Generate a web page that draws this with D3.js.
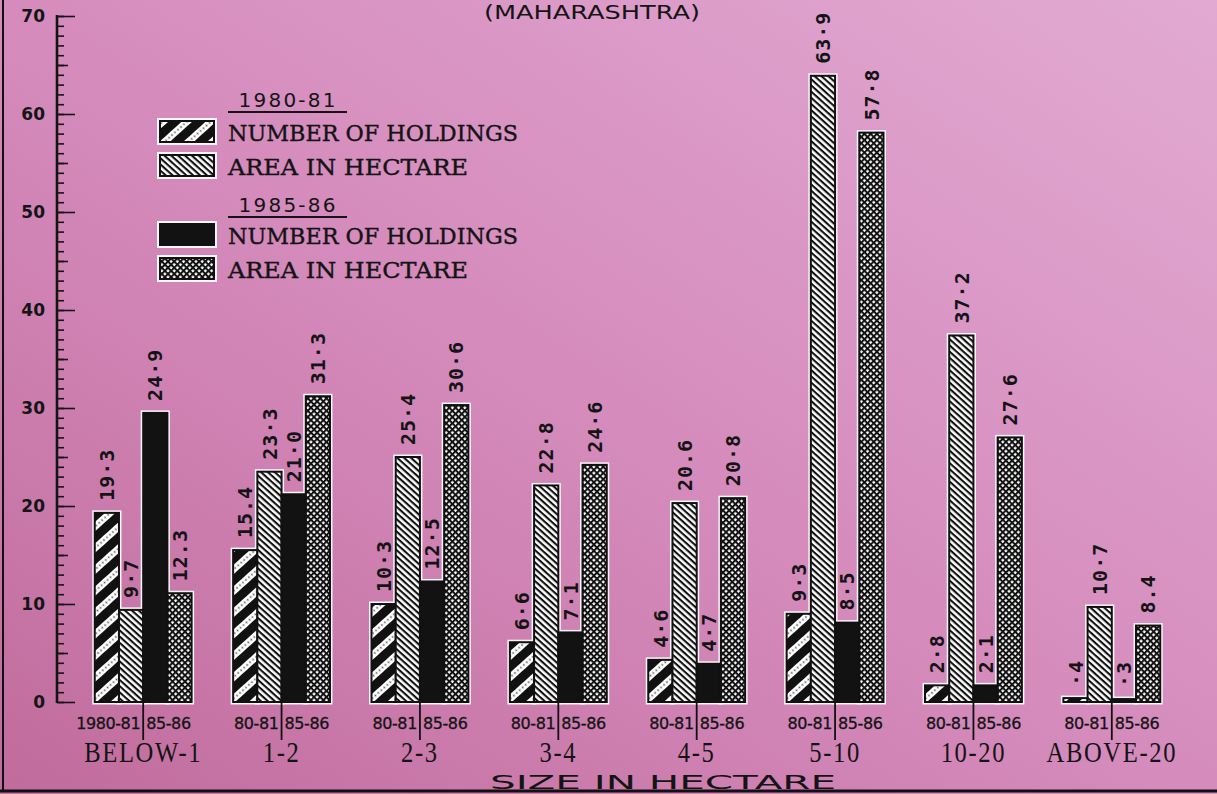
<!DOCTYPE html>
<html>
<head>
<meta charset="utf-8">
<script src="https://cdn.jsdelivr.net/npm/d3@7"></script>
<style>
  html, body { margin: 0; padding: 0; background: #d08cbc; }
  svg { display: block; }
</style>
</head>
<body>
<script>
// size classes (hectare)
const categories = ["BELOW-1", "1-2", "2-3", "3-4", "4-5", "5-10", "10-20", "ABOVE-20"];
const yearLeft = ["1980-81", "80-81", "80-81", "80-81", "80-81", "80-81", "80-81", "80-81"];
const yearRight = ["85-86", "85-86", "85-86", "85-86", "85-86", "85-86", "85-86", "85-86"];

// figures printed above the bars
const holdings8081Text = ["19·3", "15.4", "10·3", "6·6", "4·6", "9·3", "2·8", "·4"];
const area8081Text = ["9·7", "23·3", "25·4", "22·8", "20.6", "63·9", "37·2", "10·7"];
const holdings8586Text = ["24·9", "21·0", "12·5", "7·1", "4·7", "8·5", "2·1", "·3"];
const area8586Text = ["12.3", "31·3", "30·6", "24·6", "20·8", "57·8", "27·6", "8.4"];

// bar heights as drawn against the scale
const holdings8081 = [19.3, 15.5, 10.0, 6.1, 4.3, 9.0, 1.7, 0.4];
const area8081 = [9.4, 23.5, 25.0, 22.1, 20.3, 63.9, 37.4, 9.7];
const holdings8586 = [29.5, 21.2, 12.3, 7.1, 3.9, 8.1, 1.7, 0.3];
const area8586 = [11.1, 31.2, 30.3, 24.2, 20.8, 58.1, 27.0, 7.8];

const yTicks = [0, 10, 20, 30, 40, 50, 60, 70];

const legendYears = ["1980-81", "1985-86"];
const legendNames = ["NUMBER OF HOLDINGS", "AREA IN HECTARE", "NUMBER OF HOLDINGS", "AREA IN HECTARE"];

const width = 1217, height = 794;

const svg = d3.select("body").append("svg")
  .attr("width", width)
  .attr("height", height);

const defs = svg.append("defs");

// paper background
const bg = defs.append("linearGradient").attr("id", "paper")
  .attr("x1", 0).attr("y1", 1).attr("x2", 1).attr("y2", 0);
bg.append("stop").attr("offset", "0%").attr("stop-color", "#c06c9c");
bg.append("stop").attr("offset", "45%").attr("stop-color", "#d489bb");
bg.append("stop").attr("offset", "100%").attr("stop-color", "#e2aad3");

// hatch patterns
const pStripe = defs.append("pattern").attr("id", "stripe")
  .attr("patternUnits", "userSpaceOnUse")
  .attr("width", 16).attr("height", 16)
  .attr("patternTransform", "rotate(-42)");
pStripe.append("rect").attr("width", 16).attr("height", 16).attr("fill", "#111");
pStripe.append("rect").attr("y", 4).attr("width", 16).attr("height", 7).attr("fill", "#fff");
[1.5, 5.5, 9.5, 13.5].forEach(cx =>
  pStripe.append("circle").attr("cx", cx).attr("cy", 7.5).attr("r", 0.9).attr("fill", "#555"));

const pHatch = defs.append("pattern").attr("id", "hatch")
  .attr("patternUnits", "userSpaceOnUse")
  .attr("width", 4.6).attr("height", 4.6)
  .attr("patternTransform", "rotate(42)");
pHatch.append("rect").attr("width", 4.6).attr("height", 4.6).attr("fill", "#fff");
pHatch.append("rect").attr("width", 4.6).attr("height", 2.1).attr("fill", "#111");

const pCross = defs.append("pattern").attr("id", "cross")
  .attr("patternUnits", "userSpaceOnUse")
  .attr("width", 4.4).attr("height", 4.4)
  .attr("patternTransform", "rotate(45)");
pCross.append("rect").attr("width", 4.4).attr("height", 4.4).attr("fill", "#111");
pCross.append("rect").attr("x", 1.1).attr("y", 1.1).attr("width", 2.4).attr("height", 2.4).attr("fill", "#fff");

const fills = ["url(#stripe)", "url(#hatch)", "#121212", "url(#cross)"];

svg.append("rect").attr("width", width).attr("height", height).attr("fill", "url(#paper)");

// frame
svg.append("line").attr("x1", 3).attr("x2", 3).attr("y1", 0).attr("y2", 791)
  .attr("stroke", "#111").attr("stroke-width", 2);
svg.append("line").attr("x1", 0).attr("x2", width).attr("y1", 791).attr("y2", 791)
  .attr("stroke", "#111").attr("stroke-width", 3);

// scales
const y = d3.scaleLinear().domain([0, 70]).range([702, 16]);
const x0 = d3.scaleBand().domain(categories).range([74, 1181])
  .paddingInner(0.3).paddingOuter(0.15);
const x1 = d3.scaleBand().domain([0, 1, 2, 3]).range([0, x0.bandwidth()]);

// y axis: ruler style ticks
const axisX = 57;
const minor = svg.append("g").attr("transform", `translate(${axisX},0)`)
  .call(d3.axisRight(y).tickValues(d3.range(0, 71, 1)).tickSize(7).tickFormat(""));
const mid = svg.append("g").attr("transform", `translate(${axisX},0)`)
  .call(d3.axisRight(y).tickValues(d3.range(5, 70, 10)).tickSize(11).tickFormat(""));
const major = svg.append("g").attr("transform", `translate(${axisX},0)`)
  .call(d3.axisRight(y).tickValues(yTicks).tickSize(18).tickFormat(""));
[minor, mid, major].forEach(g => {
  g.select(".domain").remove();
  g.selectAll("line").attr("stroke", "#151515").attr("stroke-width", 1.6);
});
svg.append("line").attr("x1", axisX).attr("x2", axisX)
  .attr("y1", y(70) - 1).attr("y2", y(0) + 1)
  .attr("stroke", "#151515").attr("stroke-width", 2.6);

const labels = svg.append("g").attr("transform", `translate(${axisX},0)`)
  .call(d3.axisLeft(y).tickValues(yTicks).tickSize(0).tickPadding(12));
labels.select(".domain").remove();
labels.selectAll("text")
  .attr("font-family", "DejaVu Sans")
  .attr("font-weight", "bold")
  .attr("font-size", 17)
  .attr("fill", "#151515");

// bars
const series = [
  { heights: holdings8081, text: holdings8081Text },
  { heights: area8081, text: area8081Text },
  { heights: holdings8586, text: holdings8586Text },
  { heights: area8586, text: area8586Text }
];

const groups = svg.append("g").selectAll("g.grp")
  .data(categories)
  .join("g")
  .attr("class", "grp")
  .attr("transform", d => `translate(${x0(d)},0)`);

// white halo behind each bar
groups.each(function (cat, i) {
  const g = d3.select(this);
  series.forEach((s, k) => {
    const h = s.heights[i];
    g.append("rect")
      .attr("x", x1(k) - 2.5)
      .attr("y", y(h) - 2.5)
      .attr("width", x1.bandwidth() + 5)
      .attr("height", y(0) - y(h) + 5)
      .attr("fill", "#fbf6fa");
  });
});

groups.each(function (cat, i) {
  const g = d3.select(this);
  series.forEach((s, k) => {
    const h = s.heights[i];
    g.append("rect")
      .attr("x", x1(k))
      .attr("y", y(h))
      .attr("width", x1.bandwidth())
      .attr("height", y(0) - y(h))
      .attr("fill", fills[k])
      .attr("stroke", "#111")
      .attr("stroke-width", 2);
    g.append("text")
      .attr("transform", `translate(${x1(k) + x1.bandwidth() / 2},${y(h) - 12}) rotate(-90)`)
      .attr("dy", "0.36em")
      .attr("text-anchor", "start")
      .attr("font-family", "DejaVu Sans Mono")
      .attr("font-weight", "bold")
      .attr("font-size", 20)
      .attr("letter-spacing", 1)
      .attr("fill", "#141414")
      .text(s.text[i]);
  });
});

// divider and year labels under each group
groups.append("line")
  .attr("x1", x0.bandwidth() / 2).attr("x2", x0.bandwidth() / 2)
  .attr("y1", y(0)).attr("y2", 740)
  .attr("stroke", "#111").attr("stroke-width", 1.8);

groups.append("text")
  .attr("x", x0.bandwidth() / 2 - 3).attr("y", 729)
  .attr("text-anchor", "end")
  .attr("font-family", "DejaVu Sans")
  .attr("font-size", 16)
  .attr("letter-spacing", -0.4)
  .attr("stroke", "#141414").attr("stroke-width", 0.3)
  .attr("fill", "#141414")
  .text((d, i) => yearLeft[i]);

groups.append("text")
  .attr("x", x0.bandwidth() / 2 + 3).attr("y", 729)
  .attr("text-anchor", "start")
  .attr("font-family", "DejaVu Sans")
  .attr("font-size", 16)
  .attr("letter-spacing", -0.4)
  .attr("stroke", "#141414").attr("stroke-width", 0.3)
  .attr("fill", "#141414")
  .text((d, i) => yearRight[i]);

groups.append("text")
  .attr("transform", `translate(${x0.bandwidth() / 2},762) scale(0.82,1)`)
  .attr("text-anchor", "middle")
  .attr("font-family", "Liberation Serif")
  .attr("font-size", 30)
  .attr("letter-spacing", 2)
  .attr("fill", "#141414")
  .text(d => d);

// axis title and heading
svg.append("text")
  .attr("x", 663).attr("y", 789)
  .attr("text-anchor", "middle")
  .attr("font-family", "DejaVu Sans")
  .attr("font-size", 20)
  .attr("textLength", 346)
  .attr("lengthAdjust", "spacingAndGlyphs")
  .attr("fill", "#141414")
  .text("SIZE IN HECTARE");

svg.append("text")
  .attr("x", 592).attr("y", 19)
  .attr("text-anchor", "middle")
  .attr("font-family", "DejaVu Sans")
  .attr("font-size", 20)
  .attr("textLength", 216)
  .attr("lengthAdjust", "spacingAndGlyphs")
  .attr("fill", "#141414")
  .text("(MAHARASHTRA)");

// legend
const legend = svg.append("g");
const yearRows = [107, 212];
legendYears.forEach((yr, j) => {
  legend.append("text")
    .attr("x", 287).attr("y", yearRows[j])
    .attr("text-anchor", "middle")
    .attr("font-family", "DejaVu Sans")
    .attr("font-size", 20)
    .attr("textLength", 97)
    .attr("fill", "#141414")
    .text(yr);
  legend.append("line")
    .attr("x1", 228).attr("x2", 347)
    .attr("y1", yearRows[j] + 5).attr("y2", yearRows[j] + 5)
    .attr("stroke", "#141414").attr("stroke-width", 1.8);
});

const swatchRows = [120, 154, 223, 257];
legendNames.forEach((name, k) => {
  legend.append("rect")
    .attr("x", 157).attr("y", swatchRows[k] - 2)
    .attr("width", 60).attr("height", 27)
    .attr("fill", "#fbf6fa");
  legend.append("rect")
    .attr("x", 160).attr("y", swatchRows[k] + 1)
    .attr("width", 54).attr("height", 21)
    .attr("fill", fills[k])
    .attr("stroke", "#111").attr("stroke-width", 2);
  legend.append("text")
    .attr("x", 228).attr("y", swatchRows[k] + 21)
    .attr("font-family", "DejaVu Serif")
    .attr("font-size", 23)
    .attr("textLength", name.length > 16 ? 290 : 240)
    .attr("lengthAdjust", "spacingAndGlyphs")
    .attr("stroke", "#141414").attr("stroke-width", 0.4)
    .attr("fill", "#141414")
    .text(name);
});
</script>
</body>
</html>
